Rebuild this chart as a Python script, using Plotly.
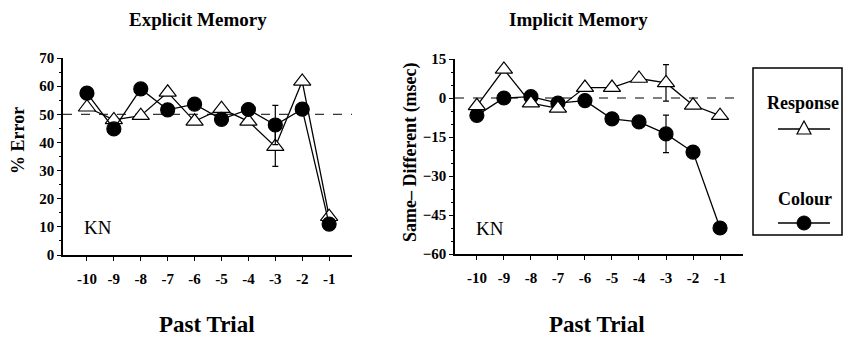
import plotly.graph_objects as go

# ---------------- data ----------------
past_trial = [-10, -9, -8, -7, -6, -5, -4, -3, -2, -1]
tick_labels = ["-10", "-9", "-8", "-7", "-6", "-5", "-4", "-3", "-2", "-1"]

explicit_response = [52.5, 48.0, 49.5, 57.8, 47.5, 52.0, 47.5, 38.5, 61.7, 13.6]
explicit_colour = [57.5, 44.8, 59.0, 51.6, 53.6, 48.2, 51.7, 46.2, 51.8, 11.0]
explicit_response_err = [0, 0, 0, 0, 0, 0, 0, 7.0, 0, 0]
explicit_colour_err = [0, 0, 0, 0, 0, 0, 0, 7.0, 0, 0]

implicit_response = [-3.0, 11.0, -2.0, -4.0, 4.0, 4.0, 7.5, 5.8, -2.8, -6.8]
implicit_colour = [-6.7, 0.0, 0.5, -2.0, -1.0, -8.0, -9.2, -13.8, -20.8, -50.0]
implicit_response_err = [0, 0, 0, 0, 0, 0, 0, 7.0, 0, 0]
implicit_colour_err = [0, 0, 0, 0, 0, 0, 0, 7.2, 0, 0]

explicit_yticks = [0, 10, 20, 30, 40, 50, 60, 70]
implicit_yticks = [-60, -45, -30, -15, 0, 15]

explicit_chance = 50
implicit_zero = 0

SERIF = "Liberation Serif"

fig = go.Figure()

def add_series(x, y, err, symbol, fill, xa, ya):
    fig.add_trace(go.Scatter(
        x=x, y=y, mode="lines+markers", xaxis=xa, yaxis=ya,
        line=dict(color="black", width=1.3),
        marker=dict(symbol=symbol, size=14 if symbol == "circle" else 15,
                    color=fill, line=dict(color="black", width=1.2)),
        error_y=dict(type="data", array=err, visible=True, color="black",
                     thickness=1.2, width=3),
        showlegend=False, cliponaxis=False))

add_series(past_trial, explicit_response, explicit_response_err, "triangle-up", "white", "x", "y")
add_series(past_trial, explicit_colour, explicit_colour_err, "circle", "black", "x", "y")
add_series(past_trial, implicit_colour, implicit_colour_err, "circle", "black", "x2", "y2")
add_series(past_trial, implicit_response, implicit_response_err, "triangle-up", "white", "x2", "y2")

xcommon = dict(tickmode="array", tickvals=past_trial, ticktext=tick_labels,
               ticks="outside", ticklen=4, tickwidth=1.2, tickcolor="black",
               ticklabelstandoff=5,
               showline=True, linecolor="black", linewidth=1.5, showgrid=False,
               zeroline=False, tickfont=dict(family=SERIF, size=15, color="black",
                                             weight="bold"))
ycommon = dict(ticks="outside", ticklen=4, tickwidth=1.2, tickcolor="black",
               showline=True, linecolor="black", linewidth=1.5, showgrid=False,
               zeroline=False, tickfont=dict(family=SERIF, size=15, color="black",
                                             weight="bold"),
               minor=dict(ticks="outside", ticklen=2, tickcolor="black", dtick=5))

# page body has an 8px margin: build figure 8px smaller and offset coordinates
OFF = 8
W, H = 859 - OFF, 337 - OFF
def px(xp): return (xp - OFF) / W
def py(yp): return 1 - (yp - OFF) / H

fig.update_layout(
    width=W, height=H, margin=dict(l=0, r=0, t=0, b=0, pad=0, autoexpand=False),
    paper_bgcolor="white", plot_bgcolor="white",
    xaxis=dict(domain=[px(63), px(352)], range=[-10.89, -0.15], anchor="y", **xcommon),
    yaxis=dict(domain=[py(255), py(58)], range=[0, 70], tickvals=explicit_yticks,
               anchor="x", **ycommon),
    xaxis2=dict(domain=[px(455), px(743)], range=[-10.81, -0.15], anchor="y2", **xcommon),
    yaxis2=dict(domain=[py(254), py(59)], range=[-60, 15], tickvals=implicit_yticks,
                anchor="x2", **ycommon),
)

# dashed reference lines
fig.add_shape(type="line", xref="x domain", yref="y", x0=0, x1=1, y0=explicit_chance, y1=explicit_chance,
              line=dict(color="black", width=1, dash="dash"), layer="below")
fig.add_shape(type="line", xref="x2 domain", yref="y2", x0=0, x1=1, y0=implicit_zero, y1=implicit_zero,
              line=dict(color="black", width=1, dash="dash"), layer="below")

def ann(text, x, y, size, bold=True, angle=0, yanchor="middle"):
    fig.add_annotation(text=text, xref="paper", yref="paper", x=px(x), y=py(y),
                       showarrow=False, textangle=angle, xanchor="center", yanchor=yanchor,
                       borderpad=0,
                       font=dict(family=SERIF, size=size, color="black",
                                 weight="bold" if bold else "normal"))

ann("Explicit Memory", 198, 8, 19, yanchor="top")
ann("Implicit Memory", 578, 8, 19, yanchor="top")
ann("Past Trial", 207, 324, 23)
ann("Past Trial", 597, 324, 23)
ann("% Error", 18, 141, 18, angle=-90)
ann("Same\u2013 Different (msec)", 410, 152, 18, angle=-90)
ann("KN", 98, 227, 19, bold=False)
ann("KN", 490, 228, 19, bold=False)

# legend box
fig.add_shape(type="rect", xref="paper", yref="paper", x0=px(753), x1=px(842), y0=py(235), y1=py(68),
              line=dict(color="black", width=1.5), fillcolor="white")
ann("Response", 803, 103, 18)
ann("Colour", 805, 199, 18)
fig.add_shape(type="line", xref="paper", yref="paper", x0=px(778), x1=px(830), y0=py(129), y1=py(129),
              line=dict(color="black", width=1.3))
fig.add_shape(type="line", xref="paper", yref="paper", x0=px(778), x1=px(830), y0=py(223), y1=py(223),
              line=dict(color="black", width=1.3))
tx, ty = 804, 129
fig.add_shape(type="path", xref="paper", yref="paper",
              path=f"M {px(tx-7)} {py(ty+5)} L {px(tx+7)} {py(ty+5)} L {px(tx)} {py(ty-8)} Z",
              line=dict(color="black", width=1.2), fillcolor="white")
cx, cy = 804, 223
fig.add_shape(type="circle", xref="paper", yref="paper",
              x0=px(cx-7), x1=px(cx+7), y0=py(cy+7), y1=py(cy-7),
              line=dict(color="black", width=1), fillcolor="black")

fig.write_html("out.html")
